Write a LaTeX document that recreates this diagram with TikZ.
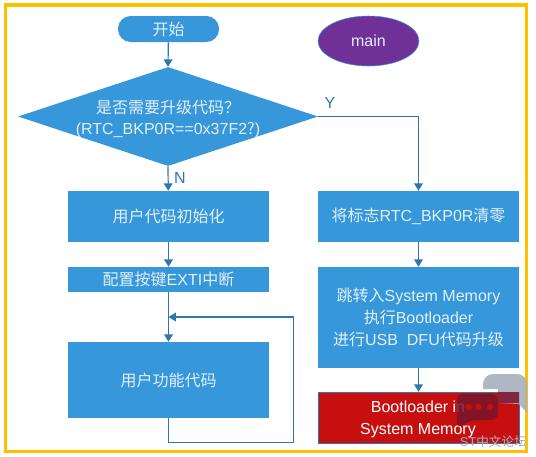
\documentclass[tikz,border=0pt]{standalone}
\usepackage{fontspec}
\usetikzlibrary{arrows.meta,shapes.geometric}
\setmainfont{Liberation Sans}
\newfontfamily\cjk{Noto Sans CJK SC}
\definecolor{flowblue}{HTML}{3698DB}
\definecolor{linkblue}{HTML}{2F77A8}
\definecolor{labeltext}{HTML}{E3F0F9}
\definecolor{mainpurple}{HTML}{6F3198}
\definecolor{bootred}{HTML}{C80F10}
\definecolor{framegold}{HTML}{FFC000}
\definecolor{markgray}{HTML}{A6B0BC}
\definecolor{markred}{HTML}{78142A}

\begin{document}
\begin{tikzpicture}[
  x=0.75pt, y=-0.75pt,
  >={Triangle[length=5.5pt,width=6.5pt]},
  every node/.style={inner sep=0pt, font=\fontsize{12pt}{16.25pt}\selectfont},
  % boxes of the flow
  flowbox/.style={rectangle, fill=flowblue, text=labeltext, align=center, minimum width=150.75pt},
  startbox/.style={rectangle, rounded corners=9.5pt, fill=flowblue, text=labeltext, minimum width=75.75pt, minimum height=19.5pt},
  decision/.style={diamond, fill=flowblue, aspect=3, minimum width=225pt, minimum height=74.25pt},
  mainbox/.style={ellipse, draw=flowblue, fill=mainpurple, text=labeltext, minimum width=75.75pt, minimum height=37.5pt},
  bootbox/.style={flowbox, fill=bootred, draw=linkblue, line width=0.4pt, text=white},
  arrow/.style={draw=linkblue, line width=0.9pt, ->},
  link/.style={draw=linkblue, line width=0.9pt}]

  \useasboundingbox (0,0) rectangle (536,457);
  \fill[white] (0,0) rectangle (536,457);
  \draw[framegold, line width=2.6pt] (5.5,5) rectangle (526.5,451.5);

  % vertices, left column
  \node[startbox] (start) at (168.5,29) {\cjk 开始};
  \node[decision] (cond) at (168,116.5) {};
  \node[text=labeltext, align=center] (condtext) at (168,119) {{\cjk 是否需要升级代码？}\\({RTC\_BKP0R==0x37F2}{\cjk ?})};
  \node[flowbox, minimum height=38.25pt] (init) at (168.5,216.5) {\cjk 用户代码初始化};
  \node[flowbox, minimum height=18.75pt] (exti) at (168.5,279.5) {{\cjk 配置按键}EXTI{\cjk 中断}};
  \node[flowbox, minimum height=57pt] (user) at (168.5,380) {\cjk 用户功能代码};

  % vertices, right column
  \node[mainbox] (main) at (368.5,41) {main};
  \node[flowbox, minimum height=38.25pt] (clear) at (418.5,216.5) {{\cjk 将标志}RTC\_BKP0R{\cjk 清零}};
  \node[flowbox, minimum height=75.75pt] (jump) at (418.5,317.5) {{\cjk 跳转入}System Memory\\{\cjk 执行}Bootloader\\{\cjk 进行}USB\ \ DFU{\cjk 代码升级}};
  \node[bootbox, minimum height=38.25pt] (boot) at (418.5,417.5) {};
  \node[text=white, align=center] (boottext) at (418,419.5) {Bootloader in\\System Memory};

  % corners of the loop
  \coordinate (join)  at (168.5,317);
  \coordinate (loopa) at (168.5,442.5);
  \coordinate (loopb) at (293.5,442.5);
  \coordinate (loopc) at (293.5,317);

  % arrows
  \draw[arrow] (start) -- (cond.north);
  \draw[arrow] (cond.south) -- (init);
  \draw[arrow] (cond.east) -| (clear);
  \draw[arrow] (init) -- (exti);
  \draw[arrow] (exti) -- (user);
  \draw[link]  (user.south) -- (loopa) -- (loopb) -- (loopc);
  \draw[arrow] (loopc) -- (join);
  \draw[arrow] (clear) -- (jump);
  \draw[arrow] (jump) -- (boot);

  % labels printed inside the picture
  \node[text=linkblue] (ylabel) at (330,103) {Y};
  \node[text=linkblue] (nlabel) at (180,178) {N};

  % forum mark over the corner
  \fill[markgray, fill opacity=.9] (483,389) -- (483,384) arc[start angle=180, end angle=270, radius=10] -- (517,374) arc[start angle=-90, end angle=0, radius=10] -- (527,413) -- (519,404) -- (498,403) -- (498,389) -- cycle;
  \fill[markred, fill opacity=.85] (498,392) rectangle (518.5,403);
  \fill[markred, fill opacity=.85, rounded corners=5pt] (457,393.5) -- (498,393.5) -- (498,420) -- (470,420) -- (457,429) -- cycle;
  \foreach \dotx in {468.5,478.5,490}
    \fill[bootred] (\dotx,407) circle (3.2);
  \node[text=markgray, font=\fontsize{9.5pt}{12pt}\selectfont] (mark) at (493.5,441.5) {ST{\cjk 中文论坛}};
\end{tikzpicture}
\end{document}
